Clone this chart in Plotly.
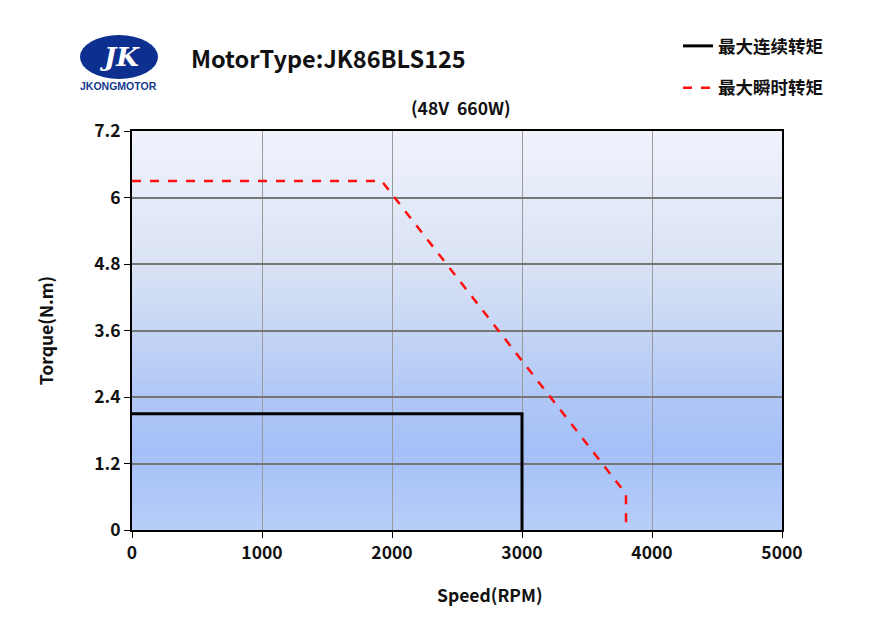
import plotly.graph_objects as go

# ---- data ----
cont_speed = [0, 3000, 3000]
cont_torque = [2.1, 2.1, 0]
peak_speed = [0, 1920, 3800, 3800]
peak_torque = [6.3, 6.3, 0.65, 0.1]
x_ticks = [0, 1000, 2000, 3000, 4000, 5000]
y_ticks = [0, 1.2, 2.4, 3.6, 4.8, 6, 7.2]
y_tick_text = ["0", "1.2", "2.4", "3.6", "4.8", "6", "7.2"]
series_names = ["最大连续转矩", "最大瞬时转矩"]

FONT = "Noto Sans CJK SC"

fig = go.Figure()
fig.add_trace(go.Scatter(x=cont_speed, y=cont_torque, mode="lines", name=series_names[0],
                         line=dict(color="black", width=3), legendgroup="a"))
fig.add_trace(go.Scatter(x=peak_speed, y=peak_torque, mode="lines", name=series_names[1],
                         line=dict(color="#ff1010", width=2.5, dash="dash"), legendgroup="b"))

# gradient background bands (below gridlines)
stops = [(0.0, (240, 243, 252)), (0.35, (216, 226, 244)), (0.65, (178, 200, 246)),
         (0.8, (164, 192, 248)), (1.0, (184, 206, 249))]
def col(t):
    for i in range(len(stops) - 1):
        t0, c0 = stops[i]
        t1, c1 = stops[i + 1]
        if t0 <= t <= t1:
            f = (t - t0) / (t1 - t0)
            return "rgb(%d,%d,%d)" % tuple(round(c0[k] + (c1[k] - c0[k]) * f) for k in range(3))
    return "rgb(%d,%d,%d)" % stops[-1][1]
N = 80
shapes = []
for i in range(N):
    t = (i + 0.5) / N
    shapes.append(dict(type="rect", xref="x domain", yref="y domain", x0=0, x1=1,
                       y0=1 - (i + 1) / N - 0.002, y1=1 - i / N,
                       fillcolor=col(t), line=dict(width=0), layer="below"))

# logo
shapes.append(dict(type="circle", xref="paper", yref="paper",
                   x0=(80 - 132) / 650, x1=(158 - 132) / 650,
                   y0=(530 - 79) / 399, y1=(530 - 35) / 399,
                   fillcolor="#0d2f8f", line=dict(width=0), layer="above"))

annotations = [
    dict(text="MotorType:JK86BLS125", x=(189 - 132) / 650, y=(530 - 58) / 399,
         xref="paper", yref="paper", xanchor="left", yanchor="middle", showarrow=False,
         font=dict(family=FONT, size=23.5, color="#111", weight="bold")),
    dict(text="(48V\u00a0\u00a0660W)", x=(461 - 132) / 650, y=(530 - 108) / 399,
         xref="paper", yref="paper", xanchor="center", yanchor="middle", showarrow=False,
         font=dict(family=FONT, size=17.5, color="#111", weight="bold")),
    dict(text="<b><i>JK</i></b>", x=(119 - 132) / 650, y=(530 - 57) / 399,
         xref="paper", yref="paper", xanchor="center", yanchor="middle", showarrow=False,
         font=dict(family="DejaVu Serif", size=26, color="white")),
    dict(text="<b>JKONGMOTOR</b>", x=(118 - 132) / 650, y=(530 - 86) / 399,
         xref="paper", yref="paper", xanchor="center", yanchor="middle", showarrow=False,
         font=dict(family="Liberation Sans", size=10.5, color="#163a8c")),
    dict(text="Speed(RPM)", x=(490 - 132) / 650, y=(530 - 594) / 399,
         xref="paper", yref="paper", xanchor="center", yanchor="middle", showarrow=False,
         font=dict(family=FONT, size=17.5, color="#111", weight="bold")),
]

tickfont = dict(family=FONT, size=17.5, color="#111", weight="bold")
fig.update_layout(
    width=880, height=627,
    margin=dict(l=132, r=98, t=131, b=97),
    paper_bgcolor="white", plot_bgcolor="rgba(0,0,0,0)",
    font=dict(family=FONT, size=16, color="#111"),
    shapes=shapes, annotations=annotations,
    showlegend=True,
    legend=dict(x=(678 - 132) / 650, y=(530 - 28) / 399, xanchor="left", yanchor="top",
                bgcolor="rgba(0,0,0,0)",
                font=dict(family=FONT, size=17.5, color="#111", weight="bold"),
                traceorder="grouped", tracegroupgap=16),
    xaxis=dict(range=[0, 5000], tickvals=x_ticks, ticks="outside", ticklen=6, tickcolor="black",
               showline=True, linecolor="black", linewidth=2, mirror=True,
               showgrid=True, gridcolor="#9a9a9a", gridwidth=1, zeroline=False,
               tickfont=tickfont),
    yaxis=dict(range=[0, 7.2], tickvals=y_ticks, ticktext=y_tick_text, ticks="outside", ticklen=6,
               tickcolor="black", showline=True, linecolor="black", linewidth=2, mirror=True,
               showgrid=True, gridcolor="#777777", gridwidth=1.5, zeroline=False,
               tickfont=tickfont,
               title=dict(text="Torque(N.m)", font=dict(family=FONT, size=17.5, weight="bold"),
                          standoff=36)),
)

fig.write_html("out.html")
